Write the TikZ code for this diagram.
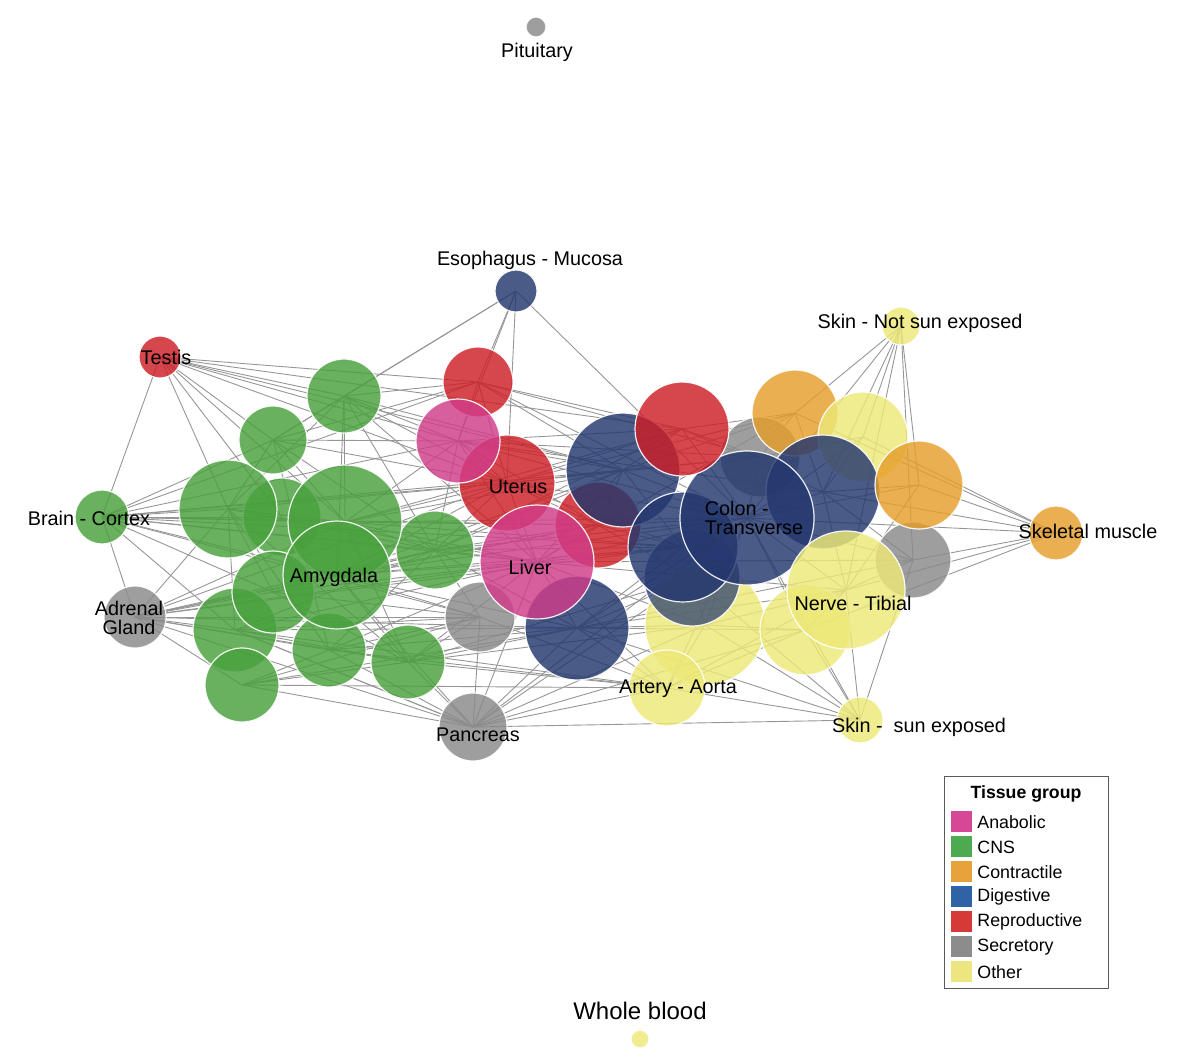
\documentclass[tikz,border=0pt]{standalone}
\usepackage{fontspec}
\setmainfont{Liberation Sans}
\usetikzlibrary{backgrounds,positioning}

\definecolor{cns}{RGB}{72,160,60}
\definecolor{reproductive}{RGB}{205,30,38}
\definecolor{anabolic}{RGB}{208,60,137}
\definecolor{digestive}{RGB}{35,55,110}
\definecolor{secretory}{RGB}{137,137,137}
\definecolor{contractile}{RGB}{229,158,43}
\definecolor{other}{RGB}{237,232,119}
\definecolor{edgegray}{RGB}{150,150,150}
\definecolor{lganabolic}{RGB}{214,72,150}
\definecolor{lgcns}{RGB}{77,170,80}
\definecolor{lgcontractile}{RGB}{232,162,60}
\definecolor{lgdigestive}{RGB}{46,100,166}
\definecolor{lgreproductive}{RGB}{214,58,54}
\definecolor{lgsecretory}{RGB}{140,140,140}
\definecolor{lgother}{RGB}{237,230,128}

\tikzset{
  tissue/.style={circle, minimum size=#1pt, inner sep=0pt, draw=white,
    line width=0.6pt, fill opacity=0.82, draw opacity=0.9},
  edge/.style={draw=edgegray, line width=0.45pt},
  lbl/.style={font=\fontsize{9.9}{9.6}\selectfont, inner sep=0pt, align=center},
  swatch/.style={minimum size=10.5pt, inner sep=0pt},
}

\begin{document}
\begin{tikzpicture}[x=0.5pt, y=-0.5pt]
\useasboundingbox (0,0) rectangle (1199,1060);

% outlying tissues
\node[tissue=10, fill=secretory] (pit) at (536,27) {};
\node[tissue=21, fill=digestive] (eso) at (516,291) {};
\node[tissue=19, fill=other] (skinns) at (901,326) {};
\node[tissue=21, fill=reproductive] (testis) at (160,357) {};
\node[tissue=27, fill=cns] (cortex) at (102,517) {};
\node[tissue=31, fill=secretory] (adrenal) at (135,617) {};
\node[tissue=27, fill=contractile] (skeletal) at (1056,533) {};
\node[tissue=23, fill=other] (skinse) at (860,720) {};
\node[tissue=9, fill=other] (blood) at (640,1039) {};
\node[tissue=34, fill=secretory] (pancreas) at (473,727) {};

% CNS cluster
\node[tissue=39, fill=cns] (g4) at (282,517) {};
\node[tissue=49, fill=cns] (g3) at (228,509) {};
\node[tissue=37, fill=cns] (g1) at (344,396) {};
\node[tissue=34, fill=cns] (g2) at (273,440) {};
\node[tissue=39, fill=cns] (g6) at (435,550) {};
\node[tissue=57, fill=cns] (g5) at (345,522) {};
\node[tissue=42, fill=cns] (g8) at (235,630) {};
\node[tissue=37, fill=cns] (g10) at (329,650) {};
\node[tissue=37, fill=cns] (g11) at (408,662) {};
\node[tissue=41, fill=cns] (g7) at (273,592) {};
\node[tissue=37, fill=cns] (g9) at (242,685) {};
\node[tissue=54, fill=cns] (amygdala) at (337,575) {};

% middle
\node[tissue=35, fill=reproductive] (r1) at (478,382) {};
\node[tissue=48, fill=reproductive] (uterus) at (507,483) {};
\node[tissue=42, fill=anabolic] (p1) at (458,441) {};
\node[tissue=35, fill=secretory] (s1) at (480,617) {};
\node[tissue=52, fill=digestive] (n2) at (577,628) {};
\node[tissue=43, fill=reproductive] (r2) at (598,525) {};
\node[tissue=57, fill=anabolic] (liver) at (537,562) {};

% right cluster
\node[tissue=57, fill=digestive] (n1) at (623,470) {};
\node[tissue=40, fill=secretory] (s2) at (760,457) {};
\node[tissue=43, fill=contractile] (o1) at (795,413) {};
\node[tissue=45, fill=other] (y1) at (863,437) {};
\node[tissue=60, fill=other] (y2) at (705,625) {};
\node[tissue=45, fill=other] (y3) at (805,630) {};
\node[tissue=38, fill=other] (aorta) at (667,688) {};
\node[tissue=48, fill=digestive, fill opacity=0.7] (n4) at (692,578) {};
\node[tissue=55, fill=digestive] (n3) at (683,547) {};
\node[tissue=38, fill=secretory] (s3) at (913,560) {};
\node[tissue=57, fill=digestive] (n5) at (823,492) {};
\node[tissue=44, fill=contractile] (o2) at (919,485) {};
\node[tissue=67, fill=digestive] (colon) at (747,518) {};
\node[tissue=47, fill=reproductive] (r3) at (682,429) {};
\node[tissue=59, fill=other] (nerve) at (846,590) {};

% edges behind the circles
\begin{pgfonlayer}{background}
\foreach \src/\dsts in {
  eso/{g1,g2,r1,p1,uterus,colon},
  testis/{cortex,g3,g2,g1,r1,p1,uterus,n1,g5,g4,r3},
  cortex/{adrenal,g3,g2,g4,g5,amygdala,g6,uterus,liver,g7,g8,r2,n3,n1,r1,p1,s1},
  adrenal/{g8,g7,g9,amygdala,g10,g11,g3,s1,pancreas,g5,liver,n2,g6,r2,n3,uterus},
  pancreas/{g9,g10,g11,s1,n2,aorta,liver,y2,skinse,n4,amygdala,g8,colon,y3},
  aorta/{skinse,y2,n2,nerve,y3,liver,s1,colon},
  skinse/{nerve,y3,y2,s3,n2,colon,n4},
  skinns/{o1,y1,o2,n5,s3,nerve,colon},
  skeletal/{o2,y1,s3,nerve,n5,colon,y3,o1},
  g1/{g2,g3,g5,p1,r1,uterus,n1,liver,amygdala,g6},
  g2/{g3,g5,g6,p1,uterus,r1,g10},
  g3/{g5,g8,g7,g6,uterus,liver,g10,g11},
  g5/{g6,uterus,liver,p1,r2,g11,n1,n3,colon,r3},
  amygdala/{g6,liver,uterus,g11,s1,n2,r2,n3,colon,n1},
  g6/{liver,uterus,p1,n1,r2,s1,n2,colon,n3,r3},
  g7/{g6,liver,s1,g11},
  g8/{g6,g11,s1,n2,liver,pancreas,aorta},
  g9/{g11,g10,s1,n2,aorta},
  g10/{s1,g6,n2,liver,aorta},
  g11/{s1,n2,liver,aorta,y2,n4},
  r1/{p1,uterus,n1,r3,s2,colon},
  p1/{uterus,n1,r2,liver,r3,colon,n5,s2},
  uterus/{n1,r2,liver,n3,colon,r3,s2,o1},
  liver/{n2,n3,r2,n1,colon,y2,s3,nerve,o1},
  r2/{n1,n3,colon,n4},
  n1/{r3,n3,colon,s2,o1},
  n2/{y2,n4,n3,colon,nerve,y3,s3},
  r3/{s2,o1,colon,n5},
  s2/{o1,colon,y1},
  colon/{n5,o2,y1,nerve,s3,y3,y2},
  n5/{o2,y1,o1,s3,nerve},
  nerve/{y3,s3,o2,y2},
  y2/{y3,n4}}
  \foreach \dst in \dsts
    \draw[edge] (\src.center) -- (\dst.center);
\end{pgfonlayer}

% labels
\node[lbl] (l-pit) at (537,52) {Pituitary};
\node[lbl] (l-eso) at (530,260) {Esophagus - Mucosa};
\node[lbl] (l-skinns) at (920,323) {Skin - Not sun exposed};
\node[lbl] (l-testis) at (166,357) {Testis};
\node[lbl] (l-cortex) at (89,518) {Brain - Cortex};
\node[lbl] (l-adrenal) at (129,618) {Adrenal\\Gland};
\node[lbl] (l-uterus) at (518,487) {Uterus};
\node[lbl] (l-liver) at (530,567) {Liver};
\node[lbl] (l-amygdala) at (334,577) {Amygdala};
\node[lbl, align=left] (l-colon) at (754,518) {Colon -\\Transverse};
\node[lbl] (l-nerve) at (853,603) {Nerve - Tibial};
\node[lbl] (l-skeletal) at (1088,531) {Skeletal muscle};
\node[lbl] (l-aorta) at (678,689) {Artery - Aorta};
\node[lbl] (l-pancreas) at (478,735) {Pancreas};
\node[lbl] (l-skinse) at (919,727) {Skin - \ sun exposed};
\node[lbl, font=\fontsize{12}{14}\selectfont] (l-blood) at (640,1011) {Whole blood};

% legend
\node[draw=black!65, line width=0.5pt, minimum width=82pt, minimum height=106pt,
  inner sep=0pt] (legend) at (1026,882) {};
\node[font=\fontsize{8.85}{10}\selectfont\bfseries, inner sep=0pt] (lg-title) at (1026,794) {Tissue group};
\foreach \t/\c [count=\i] in {Anabolic/lganabolic, CNS/lgcns, Contractile/lgcontractile,
    Digestive/lgdigestive, Reproductive/lgreproductive, Secretory/lgsecretory, Other/lgother} {
  \node[swatch, fill=\c] (sw-\i) at (961,{796+25*\i}) {};
  \node[font=\fontsize{8.9}{10}\selectfont, anchor=west, inner sep=0pt] (lg-\i) at (977,{797+25*\i}) {\t};
}
\end{tikzpicture}
\end{document}
